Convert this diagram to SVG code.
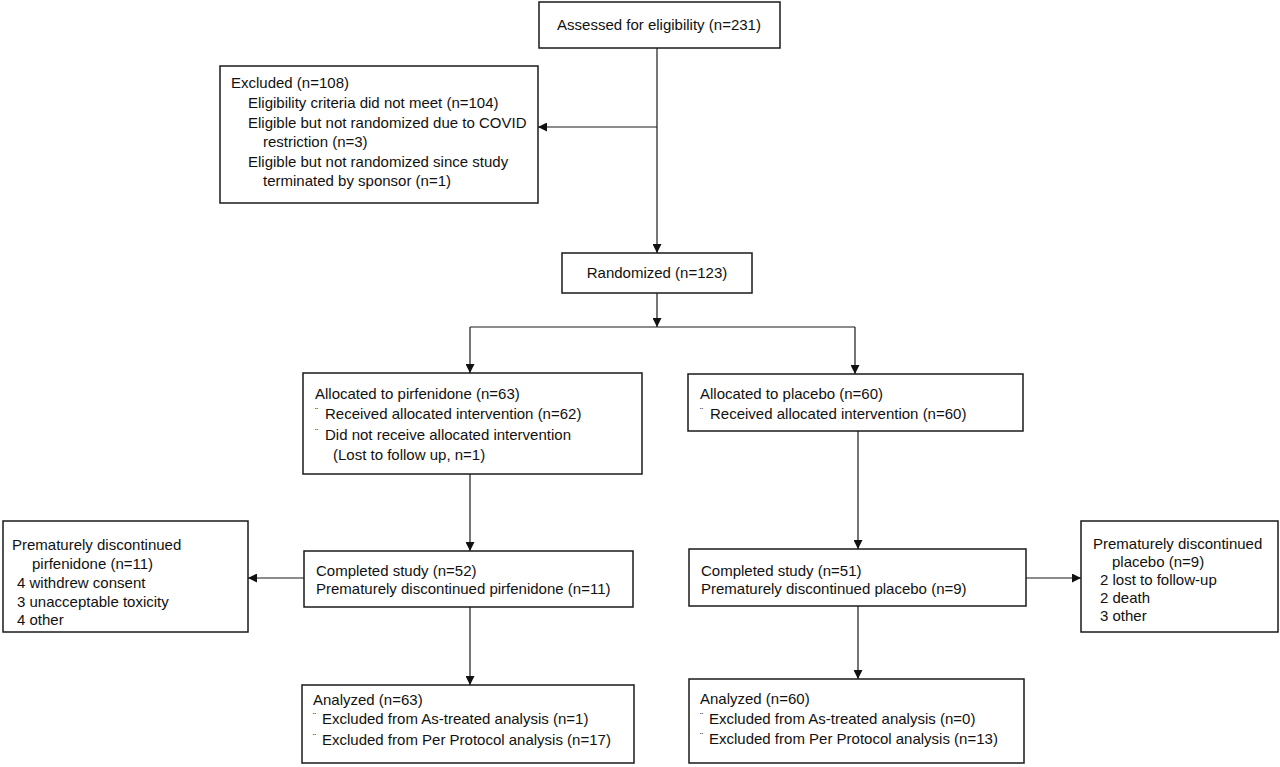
<svg xmlns="http://www.w3.org/2000/svg" width="1280" height="767" viewBox="0 0 1280 767">
<style>
rect{fill:#fff;stroke:#1a1a1a;stroke-width:1.5}
text{font-family:"Liberation Sans",Arial,sans-serif;font-size:15px;fill:#111}
.b{font-size:9px}
.c{text-anchor:middle}
.ln{stroke:#1a1a1a;stroke-width:1.2;fill:none}
</style>
<defs>
<marker id="ah" viewBox="0 0 10 10" refX="10" refY="5" markerWidth="9" markerHeight="9" markerUnits="userSpaceOnUse" orient="auto"><path d="M0,0L10,5L0,10z" fill="#111"/></marker>
</defs>
<rect x="0" y="0" width="1280" height="767" style="fill:#fff;stroke:none"/>
<g id="connectors">
<path class="ln" d="M657,48V253" marker-end="url(#ah)"/>
<path class="ln" d="M657,127H538" marker-end="url(#ah)"/>
<path class="ln" d="M657,293V327" marker-end="url(#ah)"/>
<path class="ln" d="M470,327H855"/>
<path class="ln" d="M470,327V373" marker-end="url(#ah)"/>
<path class="ln" d="M855,327V374" marker-end="url(#ah)"/>
<path class="ln" d="M470,474V551" marker-end="url(#ah)"/>
<path class="ln" d="M858,431V549" marker-end="url(#ah)"/>
<path class="ln" d="M304,578H248" marker-end="url(#ah)"/>
<path class="ln" d="M1026,578H1081" marker-end="url(#ah)"/>
<path class="ln" d="M470,607V685" marker-end="url(#ah)"/>
<path class="ln" d="M858,606V679" marker-end="url(#ah)"/>
</g>
<g id="assessed">
<rect x="539" y="2" width="241" height="46"/>
<text class="c" x="659" y="30">Assessed for eligibility (n=231)</text>
</g>
<g id="excluded">
<rect x="220" y="66" width="318" height="137"/>
<text x="231" y="88">Excluded (n=108)</text>
<text x="248" y="108">Eligibility criteria did not meet (n=104)</text>
<text x="248" y="128">Eligible but not randomized due to COVID</text>
<text x="263" y="147">restriction (n=3)</text>
<text x="248" y="167">Eligible but not randomized since study</text>
<text x="263" y="186">terminated by sponsor (n=1)</text>
</g>
<g id="randomized">
<rect x="562" y="253" width="190" height="40"/>
<text class="c" x="657" y="278">Randomized (n=123)</text>
</g>
<g id="alloc-pirf">
<rect x="303" y="373" width="339" height="101"/>
<text x="315" y="399">Allocated to pirfenidone (n=63)</text>
<text class="b" x="315" y="414">¨</text><text x="325" y="419">Received allocated intervention (n=62)</text>
<text class="b" x="315" y="435">¨</text><text x="325" y="440">Did not receive allocated intervention</text>
<text x="333" y="460">(Lost to follow up, n=1)</text>
</g>
<g id="alloc-plac">
<rect x="688" y="374" width="335" height="57"/>
<text x="700" y="399">Allocated to placebo (n=60)</text>
<text class="b" x="700" y="414">¨</text><text x="710" y="419">Received allocated intervention (n=60)</text>
</g>
<g id="disc-pirf">
<rect x="3" y="521" width="245" height="111"/>
<text x="12" y="550">Prematurely discontinued</text>
<text x="32" y="569">pirfenidone (n=11)</text>
<text x="17" y="588">4 withdrew consent</text>
<text x="17" y="607">3 unacceptable toxicity</text>
<text x="17" y="625">4 other</text>
</g>
<g id="completed-pirf">
<rect x="304" y="551" width="329" height="56"/>
<text x="316" y="576">Completed study (n=52)</text>
<text x="316" y="594">Prematurely discontinued pirfenidone (n=11)</text>
</g>
<g id="completed-plac">
<rect x="689" y="549" width="337" height="57"/>
<text x="701" y="576">Completed study (n=51)</text>
<text x="701" y="594">Prematurely discontinued placebo (n=9)</text>
</g>
<g id="disc-plac">
<rect x="1081" y="521" width="197" height="111"/>
<text x="1093" y="549">Prematurely discontinued</text>
<text x="1112" y="567">placebo (n=9)</text>
<text x="1100" y="585">2 lost to follow-up</text>
<text x="1100" y="603">2 death</text>
<text x="1100" y="621">3 other</text>
</g>
<g id="analyzed-pirf">
<rect x="302" y="685" width="332" height="78"/>
<text x="313" y="705">Analyzed (n=63)</text>
<text class="b" x="313" y="719">¨</text><text x="322" y="724">Excluded from As-treated analysis (n=1)</text>
<text class="b" x="313" y="740">¨</text><text x="322" y="745">Excluded from Per Protocol analysis (n=17)</text>
</g>
<g id="analyzed-plac">
<rect x="689" y="679" width="335" height="84"/>
<text x="700" y="704">Analyzed (n=60)</text>
<text class="b" x="700" y="719">¨</text><text x="709" y="724">Excluded from As-treated analysis (n=0)</text>
<text class="b" x="700" y="739">¨</text><text x="709" y="744">Excluded from Per Protocol analysis (n=13)</text>
</g>
</svg>
